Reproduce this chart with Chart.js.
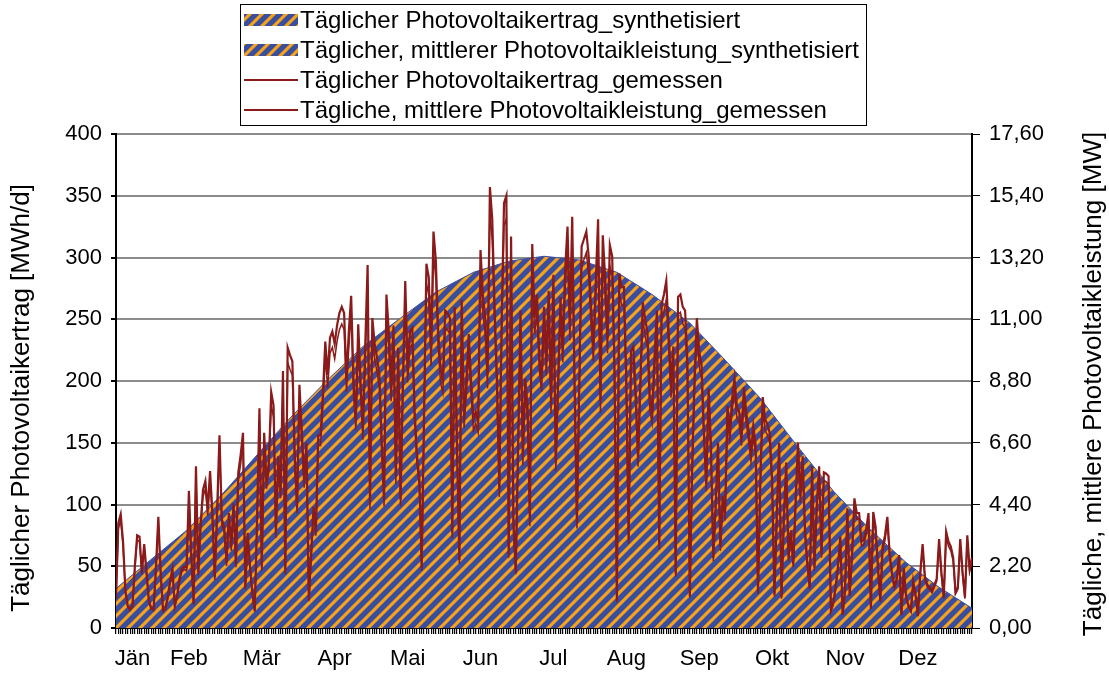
<!DOCTYPE html>
<html>
<head>
<meta charset="utf-8">
<script src="https://cdn.jsdelivr.net/npm/chart.js@4.4.1/dist/chart.umd.min.js"></script>
<style>
html, body { margin: 0; padding: 0; background: #fff; }
</style>
</head>
<body>
<canvas id="chart" width="1109" height="675"></canvas>
<script>
var jan = [25, 85, 92, 70, 30, 18, 15, 18, 50, 75, 74, 46, 68, 45, 22, 16, 15, 50, 90, 45, 14, 16, 25, 38, 48, 18, 26, 40, 48, 50, 49];
var feb = [111, 60, 20, 131, 45, 85, 112, 119, 96, 127, 93, 41, 95, 156, 88, 82, 53, 93, 66, 101, 52, 126, 140, 158, 33, 77, 50, 28];
var mar = [14, 90, 178, 49, 158, 119, 134, 191, 180, 77, 139, 111, 208, 46, 227, 221, 216, 139, 98, 197, 160, 120, 150, 23, 60, 98, 79, 156, 156, 190, 232];
var apr = [205, 235, 240, 230, 245, 255, 260, 255, 202, 240, 269, 200, 169, 246, 200, 161, 230, 294, 101, 251, 230, 219, 205, 150, 104, 270, 240, 194, 245, 123];
var mai = [227, 104, 200, 281, 210, 240, 243, 175, 140, 120, 49, 175, 295, 284, 224, 321, 298, 240, 210, 201, 257, 255, 251, 77, 260, 150, 55, 266, 171, 200, 238];
var jun = [200, 169, 175, 167, 306, 270, 251, 205, 357, 331, 260, 202, 112, 250, 344, 350, 60, 317, 85, 46, 150, 257, 139, 202, 180, 87, 311, 251, 270, 220];
var jul = [202, 260, 216, 273, 183, 286, 134, 200, 268, 227, 290, 325, 246, 333, 200, 85, 200, 309, 315, 321, 301, 260, 228, 280, 331, 184, 318, 284, 235, 310, 301];
var aug = [208, 22, 287, 276, 276, 202, 72, 224, 228, 191, 138, 202, 264, 250, 240, 186, 175, 220, 257, 67, 262, 270, 281, 240, 197, 228, 44, 268, 270, 260, 257];
var sep = [216, 26, 131, 202, 251, 224, 213, 160, 117, 194, 148, 57, 100, 150, 66, 107, 92, 180, 158, 186, 202, 180, 175, 156, 195, 175, 160, 142, 164, 148];
var okt = [29, 120, 187, 169, 165, 158, 120, 27, 93, 150, 25, 90, 134, 57, 79, 52, 104, 150, 107, 139, 79, 52, 33, 131, 49, 100, 131, 60, 126, 125, 123];
var nov = [14, 20, 33, 50, 74, 11, 30, 97, 27, 60, 105, 93, 93, 70, 71, 80, 93, 16, 94, 82, 50, 22, 66, 75, 90, 60, 44, 34, 40, 59];
var dez = [11, 49, 25, 18, 14, 38, 27, 10, 45, 68, 41, 35, 33, 30, 35, 40, 72, 45, 25, 78, 70, 66, 57, 29, 33, 72, 45, 25, 75, 48, 57];

// synthesized daily energy [MWh/d] at sampled days of the year
var synthDays = [1, 15, 31, 46, 60, 75, 91, 106, 122, 137, 153, 168, 183, 198, 214, 229, 245, 260, 275, 290, 306, 321, 337, 351, 365];
var synthEnergy = [32, 54, 79, 108, 138, 170, 201, 228, 251, 272, 288, 297, 301, 298, 288, 270, 247, 217, 186, 149, 111, 81, 53, 33, 16];

var monthNames = ["Jän", "Feb", "Mär", "Apr", "Mai", "Jun", "Jul", "Aug", "Sep", "Okt", "Nov", "Dez"];
var monthLabelDays = [8, 32, 63, 94, 125, 156, 187, 218, 249, 280, 311, 342];
var leftTicks = [0, 50, 100, 150, 200, 250, 300, 350, 400];
var rightTicks = [0, 2.2, 4.4, 6.6, 8.8, 11, 13.2, 15.4, 17.6];

var legendLabels = [
    "Täglicher Photovoltaikertrag_synthetisiert",
    "Täglicher, mittlerer Photovoltaikleistung_synthetisiert",
    "Täglicher Photovoltaikertrag_gemessen",
    "Tägliche, mittlere Photovoltaikleistung_gemessen"
];
var leftTitle = "Täglicher Photovoltaikertrag [MWh/d]";
var rightTitle = "Tägliche, mittlere Photovoltaikleistung [MW]";

var FONT = "'Liberation Sans', Arial, sans-serif";
var RED = "#8b1a1a";

var measuredEnergy = jan.concat(feb, mar, apr, mai, jun, jul, aug, sep, okt, nov, dez);
var allDays = measuredEnergy.map(function (v, i) { return i + 1; });

function stripes() {
    var s = 12;
    var c = document.createElement("canvas");
    c.width = s; c.height = s;
    var g = c.getContext("2d");
    g.fillStyle = "#3a4ea0";
    g.fillRect(0, 0, s, s);
    g.strokeStyle = "#f5a21c";
    g.lineWidth = 3.2;
    g.beginPath();
    g.moveTo(-1, s + 1); g.lineTo(s + 1, -1);
    g.moveTo(-3, 3); g.lineTo(3, -3);
    g.moveTo(s - 3, s + 3); g.lineTo(s + 3, s - 3);
    g.stroke();
    return document.getElementById("chart").getContext("2d").createPattern(c, "repeat");
}
var pattern = stripes();

var textPlugin = {
    id: "textPlugin",
    afterDraw: function (chart) {
        var ctx = chart.ctx;
        ctx.save();
        ctx.fillStyle = "#000";
        ctx.textAlign = "center";
        ctx.textBaseline = "middle";
        ctx.font = "26px " + FONT;
        ctx.save();
        ctx.translate(22, 398);
        ctx.rotate(-Math.PI / 2);
        ctx.fillText(leftTitle, 0, 0);
        ctx.restore();
        ctx.save();
        ctx.translate(1094, 384);
        ctx.rotate(-Math.PI / 2);
        ctx.fillText(rightTitle, 0, 0);
        ctx.restore();

        // legend
        ctx.lineWidth = 1;
        ctx.strokeStyle = "#000";
        ctx.strokeRect(240.5, 4.5, 626, 121);
        ctx.font = "24px " + FONT;
        ctx.textAlign = "left";
        for (var i = 0; i < legendLabels.length; i++) {
            var yc = 20 + i * 30;
            if (i < 2) {
                ctx.fillStyle = pattern;
                ctx.fillRect(244, yc - 6, 54, 12);
            } else {
                ctx.strokeStyle = RED;
                ctx.lineWidth = 2;
                ctx.beginPath();
                ctx.moveTo(244, yc);
                ctx.lineTo(298, yc);
                ctx.stroke();
            }
            ctx.fillStyle = "#000";
            ctx.fillText(legendLabels[i], 300, yc + 1);
        }
        ctx.restore();
    }
};

var tickFont = { family: FONT, size: 22 };

var chart = new Chart(document.getElementById("chart"), {
    type: "line",
    data: {
        datasets: [
            {
                label: legendLabels[3],
                data: measuredEnergy.map(function (v, i) { return { x: i + 1, y: v / 24 }; }),
                yAxisID: "y2",
                borderColor: RED,
                borderWidth: 1.5,
                pointRadius: 0,
                fill: false,
                order: 0
            },
            {
                label: legendLabels[2],
                data: measuredEnergy.map(function (v, i) { return { x: i + 1, y: v }; }),
                yAxisID: "y",
                borderColor: RED,
                borderWidth: 2.2,
                pointRadius: 0,
                fill: false,
                order: 1
            },
            {
                label: legendLabels[1],
                data: synthDays.map(function (d, i) { return { x: d, y: synthEnergy[i] / 24 }; }),
                yAxisID: "y2",
                backgroundColor: pattern,
                borderWidth: 0,
                pointRadius: 0,
                fill: "origin",
                order: 2
            },
            {
                label: legendLabels[0],
                data: synthDays.map(function (d, i) { return { x: d, y: synthEnergy[i] }; }),
                yAxisID: "y",
                backgroundColor: pattern,
                borderColor: "#3a4ea0",
                borderWidth: 1,
                pointRadius: 0,
                fill: "origin",
                order: 3
            }
        ]
    },
    options: {
        responsive: false,
        animation: false,
        layout: { padding: { top: 134, left: 0, right: 0, bottom: 0 } },
        plugins: {
            legend: { display: false },
            tooltip: { enabled: false }
        },
        scales: {
            x: {
                type: "linear",
                min: 1,
                max: 365,
                afterBuildTicks: function (s) { s.ticks = allDays.map(function (d) { return { value: d }; }); },
                afterFit: function (s) { s.height = 47; },
                ticks: {
                    autoSkip: false,
                    maxRotation: 0,
                    minRotation: 0,
                    padding: 12,
                    color: "#000",
                    font: tickFont,
                    callback: function (v) {
                        var k = monthLabelDays.indexOf(v);
                        return k >= 0 ? monthNames[k] : "";
                    }
                },
                grid: { drawOnChartArea: false, tickLength: 6, tickColor: "#000", lineWidth: 1.2 },
                border: { color: "#000", width: 2 }
            },
            y: {
                position: "left",
                min: 0,
                max: 400,
                afterBuildTicks: function (s) { s.ticks = leftTicks.map(function (v) { return { value: v }; }); },
                afterFit: function (s) { s.width = 116; },
                ticks: {
                    padding: 9,
                    color: "#000",
                    font: tickFont
                },
                grid: { color: "#8c8c8c", lineWidth: 2, tickLength: 5, tickColor: "#000" },
                border: { color: "#000", width: 2 }
            },
            y2: {
                position: "right",
                min: 0,
                max: 17.6,
                afterBuildTicks: function (s) { s.ticks = rightTicks.map(function (v) { return { value: v }; }); },
                afterFit: function (s) { s.width = 137; },
                ticks: {
                    padding: 9,
                    color: "#000",
                    font: tickFont,
                    callback: function (v) { return v.toFixed(2).replace(".", ","); }
                },
                grid: { drawOnChartArea: false, tickLength: 8, tickColor: "#000" },
                border: { color: "#000", width: 2 }
            }
        }
    },
    plugins: [textPlugin]
});
</script>
</body>
</html>
